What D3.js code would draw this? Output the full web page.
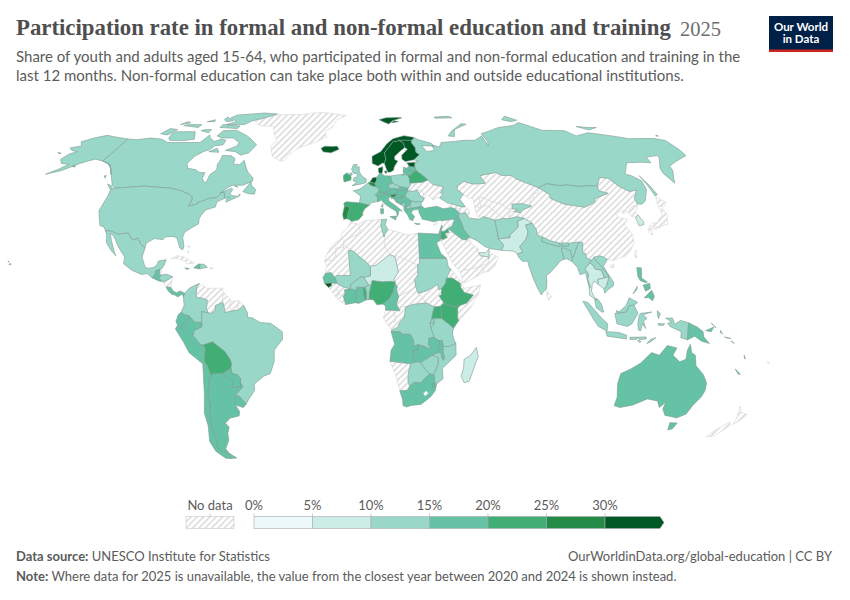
<!DOCTYPE html>
<html><head><meta charset="utf-8">
<style>html,body{margin:0;padding:0;background:#fff}svg{display:block}text{font-family:Lato,sans-serif}</style>
<script src="https://cdn.jsdelivr.net/npm/d3@7"></script></head><body>
<svg id="c" width="850" height="600"></svg>
<script>
const titleText="Participation rate in formal and non-formal education and training";
const yearText="2025";
const subtitleLines=["Share of youth and adults aged 15-64, who participated in formal and non-formal education and training in the","last 12 months. Non-formal education can take place both within and outside educational institutions."];
const binEdges=[0,5,10,15,20,25,30];
const binColors=["#edf8fb","#ccece6","#99d8c9","#66c2a4","#41ae76","#238b45","#005824"];
const legendLabels=["0%","5%","10%","15%","20%","25%","30%"];

const countryNames=[
"Canada","United States","Mexico","Guatemala","Belize","Honduras","El Salvador","Nicaragua","Costa Rica","Panama","Cuba","Haiti","Dominican Republic","Jamaica","Puerto Rico","Greenland",
"Colombia","Venezuela","Guyana","Suriname","French Guiana","Ecuador","Peru","Bolivia","Brazil","Paraguay","Uruguay","Argentina","Chile",
"Iceland","United Kingdom","Ireland","Norway","Sweden","Finland","Denmark","Netherlands","Belgium","France","Spain","Portugal","Germany","Switzerland","Austria","Italy","Slovenia","Croatia","Bosnia","Serbia","Montenegro","Albania","North Macedonia","Greece","Bulgaria","Romania","Hungary","Slovakia","Czechia","Poland","Moldova","Ukraine","Belarus","Lithuania","Latvia","Estonia","Russia",
"Turkey","Cyprus","Syria","Iraq","Iran","Jordan","Israel","Lebanon","Saudi Arabia","Kuwait","Qatar","UAE","Oman","Yemen","Georgia","Armenia","Azerbaijan","Kazakhstan","Uzbekistan","Kyrgyzstan","Tajikistan","Turkmenistan","Afghanistan","Pakistan","India","Nepal","Bhutan","Bangladesh","Sri Lanka","China","Taiwan","Mongolia","North Korea","South Korea","Japan",
"Myanmar","Thailand","Laos","Vietnam","Cambodia","Malaysia","Indonesia","Philippines","Papua New Guinea","Solomon Islands","Vanuatu","New Caledonia","Fiji","Australia","New Zealand",
"Morocco","Algeria","Tunisia","Libya","Egypt","Sudan","South Sudan","Chad","Niger","Mali","Mauritania","Senegal","Guinea-Bissau","Guinea","Sierra Leone","Liberia","Cote d'Ivoire","Ghana","Togo","Benin","Burkina Faso","Nigeria","Cameroon","Central African Republic","Ethiopia","Eritrea","Djibouti","Somalia","Kenya","Uganda","Rwanda","Burundi","Tanzania","Gabon","Congo","DR Congo","Angola","Zambia","Malawi","Mozambique","Zimbabwe","Botswana","Namibia","South Africa","Eswatini","Lesotho","Madagascar"];
const countryValues=[
13,13,13,16,null,14,17,null,18,18,null,17,13,18,null,null,
14,null,null,null,null,17,17,22,13,18,18,18,18,
33,14,23,33,34,33,32,32,27,14,22,26,17,17,17,17,27,17,16,16,14,16,14,17,14,14,17,17,14,13,null,null,22,17,17,31,13,
17,null,null,18,13,22,17,17,null,null,null,7,null,null,null,null,null,null,null,14,null,null,14,8,13,13,13,13,null,null,null,13,null,8,null,
13,8,13,13,8,13,13,18,17,18,18,18,null,17,null,
null,null,14,null,17,13,null,null,8,13,null,18,31,null,null,null,18,17,22,13,13,22,18,null,22,null,null,null,22,22,14,14,13,null,null,13,18,18,18,13,13,13,null,18,18,null,8];
const drawnLast=["Lesotho"];

/* country outlines as longitude,latitude rings, projected by d3.geoPath */
const outlines={
"Canada":"-141,69.6 -135,69.3 -128,70 -124,69.8 -120,69.4 -115,68 -108,68 -102,68 -96,68 -94,71.5 -92,70 -88,68.5 -85,69.5 -81.5,69 -81.5,67 -86,66.5 -87,65 -90,64 -93,62 -94.5,59 -92.5,57 -88,56.5 -85,55.3 -82,55.2 -82,53 -80,51.3 -79,51.5 -79,54.5 -76.7,56.5 -78,58.7 -77.5,60 -78,62.4 -73,62.2 -70,61 -69.5,58.8 -66,58.5 -64.5,60.3 -62,57.5 -60,55.5 -56,53 -56,51.7 -60,50.2 -65,50.2 -67,49.3 -70,47.2 -65,49 -64.3,48.5 -65,47 -64,46.2 -61,45.8 -60,46.8 -60,46 -65.5,43.6 -66,44.5 -64.5,45.5 -67,45 -67.8,47.1 -69.2,47.4 -71,45.3 -74.7,45 -76.5,44.2 -79.2,43.5 -79,42.9 -83,42 -82.5,43 -82.5,45.3 -84.5,46.5 -89.5,48 -95,49 -123,49 -125,50 -130,54.5 -133,57 -137,59 -141,60|-80,73.7 -72,71.5 -68,70 -62,67 -64,63.5 -68,62.5 -72,64 -78,64.5 -73,66.5 -73,68 -78,70 -85,70 -89,71 -88,73.5|-117,73 -105,73 -101,69.5 -108,68.8 -115,69 -117,70 -118,72|-125,72 -120,71.5 -117.5,74 -123,74.5|-90,76.5 -78,76.5 -75,78.5 -68,80 -62,82.5 -72,83.1 -90,81.8 -92,80 -85,78|-92,75 -80,74.5 -80,75.8 -92,76.5|-95,80.5 -88,78.5 -92,78 -95,79|-117,76 -106,75 -106,76.5 -115,76.5|-87,64 -81,63.7 -83.5,65.5|-59,47.7 -56,46.9 -53,46.7 -53,48.5 -55.5,50 -56.5,51.5|-128,50.7 -125.5,50 -123.5,48.4 -125.5,48.9|-133,54 -131.7,53 -132,54|-102,73.5 -96,72.5 -96,74 -100,74|-64,49.9 -62,49.4 -63,49.9|-105,78 -100,78 -101,79|-120,76.5 -115,77.5 -118,78",
"United States":"-123,49 -95,49 -89.5,48 -84.5,46.5 -82.5,45.3 -82.5,43 -83,42 -79,42.9 -79.2,43.5 -76.5,44.2 -74.7,45 -71,45.3 -69.2,47.4 -67.8,47.1 -67,45 -70,43.7 -70,41.7 -74,40.6 -75.5,38.5 -76,37 -75.5,35.3 -78,33.9 -81,32 -81.3,30 -80,26.8 -80.3,25.2 -81.7,26 -82.8,28 -84,30 -86,30.4 -89,30.3 -90,29.2 -94,29.6 -97.2,27.8 -97.2,26 -99.5,27.5 -101.5,29.8 -103,29 -104.5,29.7 -106.5,31.8 -108.2,31.5 -111,31.3 -114.8,32.5 -117.1,32.5 -118.5,34 -120.6,34.6 -122.4,37.5 -124.2,40.3 -124,44 -124,46.3 -124.7,48.4|-141,69.6 -141,60 -137,59 -133,57 -130,54.5 -131.5,55.5 -135,58.5 -140,59.8 -146,60.8 -149,60 -152,59 -154,58 -158,56 -164,54.6 -160,56.7 -157.5,58.7 -162,59 -165,60.7 -164,63 -161,64 -165,64.5 -168,65.6 -163,66.5 -166.5,68.3 -162,70 -156.5,71.3 -150,70.5|-155.9,19.5 -155,19.7 -155.6,20.2|-156.7,20.9 -156,20.8 -156.4,20.6|-171.5,63.7 -169,63.3 -170,63.1|-154.5,57.8 -152.5,57.5 -153.5,58.2",
"Mexico":"-117.1,32.5 -114.8,32.5 -111,31.3 -108.2,31.5 -106.5,31.8 -104.5,29.7 -103,29 -101.5,29.8 -99.5,27.5 -97.2,26 -97.8,22.5 -95.9,18.8 -94.5,18.2 -92,18.6 -90.7,19.5 -90.3,21 -87,21.5 -87.5,19.5 -88.2,18.4 -89.1,17.9 -91,17.2 -91,16 -92.2,14.6 -94.5,16.2 -97,15.9 -101.5,17.5 -105.5,20 -105.5,22.5 -109.3,26.5 -112.5,30.5 -114.7,31.7 -113,28.8 -110.5,24.5 -109.5,23 -112,25 -115,28 -116,31",
"Guatemala":"-92.2,14.6 -91,16 -91,17.2 -89.1,17.9 -89.2,15.9 -88.2,15.7 -89.3,14.4 -90.1,13.8",
"Belize":"-89.1,17.9 -88.2,18.4 -88.3,16.5 -89.2,15.9",
"Honduras":"-88.2,15.7 -86,16 -83.2,15 -84.9,14 -87.3,13 -87.8,13.4 -89.3,14.4",
"El Salvador":"-90.1,13.8 -89.3,14.4 -87.8,13.4 -88.5,13.2",
"Nicaragua":"-87.3,13 -84.9,14 -83.2,15 -83.6,11 -85.7,11.1",
"Costa Rica":"-85.7,11.1 -83.6,11 -82.6,9.6 -83,8.3 -84.7,9.6",
"Panama":"-82.6,9.6 -81,8.9 -79.5,9.6 -77.4,8.7 -77.9,7.2 -78.5,8.4 -80.4,7.3 -81.7,8 -83,8.3",
"Cuba":"-85,21.9 -82.5,23.1 -79,22.5 -74.2,20.2 -77.7,19.9 -78.5,21 -82,22",
"Haiti":"-74.4,18.4 -72.5,19.9 -71.7,19.8 -71.7,18 -73,18.2",
"Dominican Republic":"-71.7,19.8 -70,19.8 -68.4,18.6 -71,18.2 -71.7,18",
"Jamaica":"-78.3,18.4 -76.3,18.1 -77.3,17.8",
"Puerto Rico":"-67.2,18.4 -65.7,18.4 -65.9,18 -67.2,18|-78.5,26.8 -77,26.5 -77.8,26.2|-78,24.6 -77.4,25 -77.6,24|-61.9,10.1 -61,10.8 -61,10.1",
"Greenland":"-73,78.2 -68,76 -58,75.5 -54,71 -51,69 -53.5,66.5 -50,62 -45,60 -43,60 -41,63 -37,65.5 -28,68.2 -22,70.5 -24,73 -20,75 -18,79 -12,81.5 -30,83.6 -45,82.2 -60,82 -68,80.5",
"Colombia":"-77.4,8.7 -75.5,10.7 -72,12.2 -71.3,12.4 -72.3,11.2 -72.5,8 -72,7 -70,6.9 -67.5,6.1 -67.8,2.8 -67,1.2 -69.8,1.7 -69.8,-4.2 -70.2,-2.5 -72.9,-2.4 -75.2,0 -77,0.4 -78.8,1.4 -77.5,4 -77.9,7.2",
"Venezuela":"-71.3,12.4 -71.7,10.9 -70,12.1 -68,10.6 -64,10.6 -61.9,10.7 -60,8.5 -61,7 -60.7,5.2 -64,4 -64,2 -66,1 -67,1.2 -67.8,2.8 -67.5,6.1 -70,6.9 -72,7 -72.5,8 -72.3,11.2",
"Guyana":"-60,8.5 -58,6.8 -57.2,5.5 -58,3.5 -57,1.9 -59.8,1.3 -59.9,2.3 -60.7,5.2 -61,7",
"Suriname":"-57.2,5.5 -54,5.9 -54.2,3.5 -54,2.3 -57,1.9 -58,3.5",
"French Guiana":"-54,5.9 -51.7,4.1 -54,2.3 -54.2,3.5",
"Ecuador":"-78.8,1.4 -77,0.4 -75.2,0 -75.5,-1.5 -78.3,-3.5 -79,-5 -80.3,-3.4 -81,-2.2 -80,0.5",
"Peru":"-80.3,-3.4 -79,-5 -78.3,-3.5 -75.5,-1.5 -75.2,0 -72.9,-2.4 -70.2,-2.5 -69.8,-4.2 -73,-5.5 -73.8,-7.5 -70.6,-11 -69.5,-11 -68.7,-12.5 -69.5,-16 -69.5,-17.5 -70.4,-18.3 -76,-14 -78,-10 -81.3,-5",
"Bolivia":"-69.5,-11 -65.4,-9.8 -60.3,-13.5 -58.3,-16.3 -57.6,-18.2 -58.2,-20 -62.3,-22 -66.2,-22 -67.2,-22.8 -68.6,-19 -69.5,-17.5 -69.5,-16 -68.7,-12.5",
"Brazil":"-69.8,1.7 -67,1.2 -66,1 -64,2 -64,4 -60.7,5.2 -59.9,2.3 -59.8,1.3 -57,1.9 -54,2.3 -51.7,4.1 -50,1.2 -50,-0.5 -48,-0.7 -44.5,-2.5 -40,-2.8 -37,-4.7 -35,-6 -35,-9 -38.7,-13 -39,-17.5 -41,-22 -44,-23 -48.5,-26 -48.7,-28.5 -52,-32 -53.4,-33.7 -55.7,-30.9 -57.6,-30.2 -53.7,-27 -54.6,-25.6 -54.3,-24 -55.7,-22.4 -57.9,-22 -58.2,-20 -57.6,-18.2 -58.3,-16.3 -60.3,-13.5 -65.4,-9.8 -69.5,-11 -70.6,-11 -73.8,-7.5 -73,-5.5 -69.8,-4.2",
"Paraguay":"-58.2,-20 -57.9,-22 -55.7,-22.4 -54.3,-24 -54.6,-25.6 -54.7,-27.2 -58.6,-27.3 -57.7,-25 -62.3,-22",
"Uruguay":"-57.6,-30.2 -55.7,-30.9 -53.4,-33.7 -54.9,-35 -58.4,-34",
"Argentina":"-66.2,-22 -62.3,-22 -57.7,-25 -58.6,-27.3 -54.7,-27.2 -54.6,-25.6 -53.7,-27 -57.6,-30.2 -58.4,-34 -57,-36.5 -57.7,-38.2 -62,-39 -65,-41 -63.7,-42.5 -65.3,-45 -65.8,-47.5 -69,-51 -68.4,-52.3 -71.5,-52 -73,-50.5 -72,-48 -72,-42 -71.3,-39 -70,-34 -70,-30 -68.4,-24.5 -67.2,-22.8|-68.4,-52.6 -65.2,-54.7 -68.6,-54.9",
"Chile":"-69.5,-17.5 -68.6,-19 -67.2,-22.8 -68.4,-24.5 -70,-30 -70,-34 -71.3,-39 -72,-42 -72,-48 -73,-50.5 -71.5,-52 -68.4,-52.3 -68.6,-54.9 -71,-54.8 -74.5,-52 -75.5,-48 -73.5,-42 -73.5,-37 -71.5,-30 -70.4,-18.3",
"Iceland":"-24,65.5 -22,66.4 -18,66.2 -15,66.4 -13.6,65 -18,63.5 -22.5,63.9",
"United Kingdom":"-5.5,50 -1,50.7 1.4,51.2 1.7,52.7 0,53.5 -1.5,55 -2,56 -2,57.6 -4,57.7 -3,58.6 -5,58.6 -6,56.7 -5,55 -3,54.9 -3,53.4 -4.5,53.3 -5,52 -3,51.4|-8,54.5 -6,55.2 -5.5,54.4 -6.3,54.1",
"Ireland":"-10,54.2 -8.2,55.2 -8,54.5 -6.3,54.1 -6,53 -6.3,52.2 -9.5,51.5 -10,53",
"Norway":"5,59 5,62 10,64 14,67.5 18,69.7 25,71.1 31,70.3 29,69 25.7,69 21,69 20,68.5 18,68.5 15,66 12,63.5 12.5,61 11.5,59 10.5,59.2 8,58|11,79 16,80 25,80.2 27,80 20,78.5 17,76.8 14,77.8|21,78.5 24,78 19,77.5",
"Sweden":"11.5,59 12.5,61 12,63.5 15,66 18,68.5 20,68.5 21,69 23.7,67.9 24,65.8 21.5,64.5 17.5,62 17.2,60.7 18.8,60 16.5,57.5 16,56.2 14.3,55.5 13,55.4 12.5,56.3",
"Finland":"21,69 25.7,69 29,69 28.5,68 30,65.7 29.8,63.7 31.5,62.8 27.8,60.5 22.9,59.8 21.3,60.8 21.5,62.5 25.3,65 24,65.8 23.7,67.9",
"Denmark":"8.1,57 10.5,57.7 10.3,56 9.7,54.9 8.6,54.9 8.1,55.6|11,55.7 12.5,56 12,54.8",
"Netherlands":"3.4,51.4 5,53.2 7,53.4 7,52.3 6,51 5.9,50.8 4.5,51.4",
"Belgium":"2.5,51.1 3.4,51.4 4.5,51.4 5.9,50.8 6.3,50.3 6.3,49.5 4,50",
"France":"2.5,51.1 4,50 6.3,49.5 8.2,49 7.6,47.6 6,46.3 7,45.8 7,44 7.5,43.8 4,43.4 3,42.4 -1.7,43.3 -1.2,46 -4.7,48 -1.5,48.7 0.2,49.7|8.6,41.9 9.4,43 9.5,41.6",
"Spain":"-1.7,43.3 3,42.4 0.8,41 -0.3,39.3 0,38.7 -2,36.8 -5.3,36.1 -6.4,36.9 -7.4,37.2 -7,39.6 -6.2,41.6 -8.2,42 -8.8,42 -9.2,43.2 -8,43.7",
"Portugal":"-8.8,42 -8.2,42 -6.2,41.6 -7,39.6 -7.4,37.2 -9,37 -9.5,38.8",
"Germany":"7,53.4 8.6,54.9 9.7,54.9 11,54 14.2,53.9 14.6,52 15,51 12.2,50.3 13.8,48.7 13,47.6 10,47.3 7.6,47.6 8.2,49 6.3,49.5 6.3,50.3 5.9,50.8 6,51 7,52.3",
"Switzerland":"6,46.3 7.6,47.6 10,47.3 10.4,46.6 9,45.9 7,45.8",
"Austria":"10,47.3 13,47.6 13.8,48.7 15,49 17,48.7 17,47 16,46.7 13.5,46.5 10.4,46.6",
"Italy":"7,45.8 9,45.9 10.4,46.6 13.5,46.5 13.7,45.7 12.3,45.2 12.5,44 16,41.9 18.5,40.1 17,40.5 16.5,39 16,38 15.7,40 12.4,41.7 10.3,43 8.8,44.4 7.5,43.8 7,44|12.5,38 15.6,38.2 15.1,36.7|8.2,41 9.7,41 9.6,39.2 8.4,39",
"Slovenia":"13.5,46.5 16,46.7 16.5,46.5 15.5,45.6 13.7,45.5 13.7,45.7",
"Croatia":"13.7,45.5 15.5,45.6 16.5,46.5 19,45.9 19,45 16,45.2 15.8,44.7 17.5,43 18.5,42.5 16,43.5 15,44.7 14.3,45 13.7,44.9",
"Bosnia":"16,45.2 19,45 19.3,43.5 18.5,42.5 17.5,43 15.8,44.7",
"Serbia":"19,45.9 20.3,46.1 21.5,45.2 22.7,44.3 23,43.3 22.4,42.3 20.6,41.9 20.2,42.8 19.3,43.5 19,45",
"Montenegro":"18.5,42.5 19.3,43.5 20.2,42.8 20.2,42.5 19.4,41.9",
"Albania":"19.4,41.9 20.2,42.5 20.6,41.9 21,40.9 20,39.7 19.3,40.5",
"North Macedonia":"20.6,41.9 22.4,42.3 23,41.3 21,40.9",
"Greece":"20,39.7 21,40.9 23,41.3 26.3,41.7 26,40.8 23.5,40.5 22.6,39.5 24,38 23,36.5 21.7,36.8 21,38.3|23.6,35.5 26.3,35.2 24.8,34.9",
"Bulgaria":"22.4,42.3 23,43.3 22.7,44.3 25,43.7 28,43.8 27.7,42.5 28,42 26.3,41.7 23,41.3",
"Romania":"20.3,46.1 22,48 24.9,47.8 26.6,48.3 28.2,45.5 29.7,45.2 28.7,43.8 28,43.8 25,43.7 22.7,44.3 21.5,45.2",
"Hungary":"16,46.7 17,47 17,48 18.8,48.1 22,48.4 22,48 20.3,46.1 19,45.9 16.5,46.5",
"Slovakia":"17,48.7 18.8,49.6 22.5,49.1 22,48.4 18.8,48.1 17,48",
"Czechia":"12.2,50.3 15,51 16.8,50.3 18.8,49.6 17,48.7 15,49 13.8,48.7",
"Poland":"14.2,53.9 19,54.4 23,54.4 23.7,52.7 23.5,51 24,50.6 22.5,49.1 18.8,49.6 16.8,50.3 15,51 14.6,52",
"Moldova":"26.6,48.3 29,48.1 29.8,46.5 28.2,45.5",
"Ukraine":"23.5,51 30,51.4 33,52.3 35,50.5 40,49.6 38,47.1 35,46.2 36.5,45.3 33.5,44.4 32.5,46 30.5,46 29.7,45.2 28.2,45.5 29.8,46.5 29,48.1 26.6,48.3 24.9,47.8 22,48 22,48.4 22.5,49.1 24,50.6",
"Belarus":"23.7,52.7 23.5,51 30,51.4 33,52.3 31,54 28,56 26.5,55.7 24,54 23,54.4",
"Lithuania":"21,56 25,56.4 26.5,55.7 24,54 23,54.4 21,55.2",
"Latvia":"21,56 21.5,57.5 23,57 24.4,57.9 27.5,57.5 28,56 26.5,55.7 25,56.4",
"Estonia":"23.5,59.2 28,59.5 27.5,57.5 24.4,57.9 24.4,58.3",
"Russia":"28,59.5 27.5,57.5 28,56 31,54 33,52.3 35,50.5 40,49.6 38,47.1 39.3,47 37,45.2 40,43.5 43.5,42.6 46.5,41.8 48.5,41.8 47.5,43.5 46.7,44.5 48,46 49,46.5 46.5,48.5 47,50 51,51.7 55,50.7 59,50.8 61.5,51 60,54 69,55.3 71,54.2 76.5,54 78,52.7 87,49.2 92,50.8 98,50 102,50.3 107,49.7 113,50 116.7,49.8 120,52.5 120.5,53.3 125,53 127.5,49.7 131,47.7 135,48.3 131,45 131,42.9 133,42.8 135.5,44 140,48.5 141,52 138,54 135.5,54.7 142,59.3 150,59.5 155,59.3 156,61.7 163,62.3 163,61.6 156.7,57 155.5,55 156.7,51 158.5,53 162,56 163.2,58 170,60 179,62.3 179.9,65 179.9,68.9 175,69.8 170,69.8 160,69.7 152,71 140,72.5 130,71 127,73.5 113,73.7 104,77.6 98,76 87,75 80,73.5 73,72 73.7,68.5 72.7,66.5 72.3,71 66.7,69 60,69 54,68.5 46,68 44,66 40,67 40.5,64.6 36,64 34,66.7 41,66.3 40,67.7 33,69.3 31,70 29,69 28.5,68 30,65.7 29.8,63.7 31.5,62.8 27.8,60.5 30,60|52,71 55.5,70.7 58,74 68,76.7 65,77 55,73|142,54 143,50 143.5,46.5 142,46 142,50|95,79 100,78 105,78.8 100,81|138,75.5 145,75 150,75 143,73.8|178.5,71 179.9,71.4 179.9,70.9|50,80.5 60,81 62,80 50,79.8|21,54.9 22.5,55 22.5,54.4 20,54.4",
"Turkey":"26.3,41.7 28,42 29,41.2 35,42 38,41 41.5,41.5 43.5,41 44.8,39.7 44.5,37.8 42.4,37.1 39,36.7 36.5,36.5 35.5,36.6 32.5,36 30.5,36.5 27.5,37 26.3,39.5 26.2,40.8",
"Cyprus":"32.3,35 34.5,35.6 33.5,34.7",
"Syria":"36.5,36.5 39,36.7 42.4,37.1 41,34.4 38.8,33.4 36.8,32.3 35.8,33.3 36.5,34.2 36,34.6",
"Iraq":"42.4,37.1 44.5,37.8 45.5,35.5 46,33 48,30.5 48.5,29.9 47.7,30.1 46.5,29.1 44.7,29.2 40.9,31.9 38.8,33.4 41,34.4",
"Iran":"44.8,39.7 46,39 48,39.6 49,37.5 54,37 56,38 61,36.6 61,31.4 61,29.5 63,27 61.6,25.1 57,25.7 54.5,26.5 50.8,29 48.5,29.9 48,30.5 46,33 45.5,35.5 44.5,37.8",
"Jordan":"35,29.5 35.5,32.5 36.8,32.3 38.8,33.4 39,32 37,31.5 38,30 36,29.2",
"Israel":"34.3,31.3 35.1,33 35.8,33.3 35.5,32.5 35,29.5",
"Lebanon":"35.1,33 36,34.6 36.5,34.2 35.8,33.3",
"Saudi Arabia":"34.9,29 36,29.2 38,30 37,31.5 39,32 40.9,31.9 44.7,29.2 46.5,29.1 47.7,28.5 48.5,28 50,26.5 51,24.5 52,23 55.2,22.7 55.7,22 55,20 52,19 48.8,18.2 43.5,17.3 42.8,16.4 39,21 37,25",
"Kuwait":"46.5,29.1 47.7,30.1 48.4,28.5 47.7,28.5",
"Qatar":"51,24.6 51.5,25.8 51.2,26.1 50.8,24.8",
"UAE":"51.5,24.2 52,23 55.2,22.7 55.7,22 56,24.8 56.3,25.8 54.5,24.2",
"Oman":"55.7,22 56,24.8 56.8,24 59.8,22.5 58,19 55,17 53,16.7 52,19 55,20",
"Yemen":"43.5,17.3 48.8,18.2 52,19 53,16.7 45,12.8 43.4,12.7 42.8,16.4",
"Georgia":"40,43.5 43.5,42.6 46.5,41.8 45.5,41 43.5,41 41.5,41.5",
"Armenia":"43.5,41 45.5,41 46,39 44.8,39.7",
"Azerbaijan":"46.5,41.8 48.5,41.8 50.3,40.3 49,37.5 48,39.6 46,39 45.5,41",
"Kazakhstan":"49,46.5 46.5,48.5 47,50 51,51.7 55,50.7 59,50.8 61.5,51 60,54 69,55.3 71,54.2 76.5,54 78,52.7 87,49.2 85.5,47 83,47 82.5,45.2 80.3,45 80,42 76,43 71,42.8 70.5,41 68,41 66,43 61,44 58,45.5 56,45 56,41.3 53,42 53,45 51,45",
"Uzbekistan":"56,45 58,45.5 61,44 66,43 68,41 70.5,41 73,40.8 71,40 68.5,39.5 67.7,37.2 65,37.3 62,40 58.5,42.5 56,41.3",
"Kyrgyzstan":"71,42.8 76,43 80,42 75,40.5 73.7,39.5 71,40 73,40.8 70.5,41",
"Tajikistan":"68.5,39.5 71,40 73.7,39.5 74.9,37.3 71.5,38 67.7,37.2",
"Turkmenistan":"53,42 56,41.3 58.5,42.5 62,40 65,37.3 61,36.6 56,38 54,37 53,39.5",
"Afghanistan":"61,36.6 65,37.3 67.7,37.2 71.5,38 74.9,37.3 71.5,36.3 71,34 69.5,33 66.5,31 66.3,29.9 61,29.5 61,31.4",
"Pakistan":"61,29.5 66.3,29.9 66.5,31 69.5,33 71,34 71.5,36.3 74.9,37.3 77.8,35.5 74.5,34.7 75,32.4 74.5,31 73,29 70,26.5 71,24.4 68.5,23.7 67,24.8 61.6,25.1 63,27",
"India":"74.5,34.7 77.8,35.5 79,33 78.8,31 81,30.2 80.3,28.5 84,27.4 88,26.5 88.1,27.9 89,27.2 89,26.8 92,26.8 92,27.8 97,28.3 95.2,26 93.4,23 92.6,22 92.3,23.3 92.3,25 89.8,25.9 88.5,26 88.5,24.3 88.9,21.7 87,21 86,20 82,16.5 80.2,15.5 80.2,13 79.8,10.3 78,8.9 77.5,8 76,10.5 74.5,14 73,19 72.7,21 70.5,20.8 69,22.3 68.5,23.7 71,24.4 70,26.5 73,29 74.5,31 75,32.4",
"Nepal":"80.3,28.5 81,30.2 84,28.8 88.1,27.9 88,26.5 84,27.4",
"Bhutan":"89,27.2 89,28 92,27.8 92,26.8 89,26.8",
"Bangladesh":"88.5,26 89.8,25.9 92.3,25 92.3,23.3 92.6,22 92.3,20.8 90,21.9 88.9,21.7 88.5,24.3",
"Sri Lanka":"80,9.7 81.8,7.5 80.5,6 79.8,8",
"China":"73.7,39.5 75,40.5 80,42 80.3,45 82.5,45.2 83,47 85.5,47 87,49.2 91,46.5 90.5,45 96,42.8 105,41.6 111,43.5 112,45 116,46 119.9,47 116,48 116.7,49.8 120,52.5 120.5,53.3 125,53 127.5,49.7 131,47.7 135,48.3 131,45 131,42.9 130.7,42.3 128,42 124.3,40 121.5,39 122,40.5 118,39 119,37.5 122.5,37 120,35 122,31 121.5,28 119,25 116.5,23 113.5,22.2 110.5,21.2 108,21.6 106.5,22.5 105,23 102.2,22.5 101.2,21.3 99,22 98.7,24 97.5,24 98.5,28 97,28.3 92,27.8 89,28 88.1,27.9 84,28.8 81,30.2 78.8,31 79,33 77.8,35.5 74.9,37.3|108.7,19.2 110.5,20 110.3,18.6 109,18.4",
"Taiwan":"120.2,23 121.5,25.3 121,22",
"Mongolia":"87,49.2 92,50.8 98,50 102,50.3 107,49.7 113,50 116.7,49.8 116,48 119.9,47 116,46 112,45 111,43.5 105,41.6 96,42.8 90.5,45 91,46.5",
"North Korea":"124.3,40 128,42 130.7,42.3 127.5,39.7 128.4,38.6 126.7,37.8 125,38",
"South Korea":"126.7,37.8 128.4,38.6 129.4,36 129,35 126.5,34.4 126.6,37",
"Japan":"130.9,34 133,35.5 136,35.8 137,37 139.7,38.5 140,41 141.5,41 142,39 140.9,36.8 140,35 137,34.6 135.5,33.6 132,34.2|140,41.8 141.8,45.5 145,43.5 143,42|130,33.5 131.8,33.5 131,31 130.2,31.4|132.4,33.4 134.5,34.2 133.5,33",
"Myanmar":"97,28.3 98.5,28 97.5,24 98.7,24 99,22 101.2,21.3 100,20.3 97.5,18 98.8,16 98.2,14 99,11 98.5,10.5 97.5,16.5 95,15.8 94.3,18.5 92.3,20.8 92.6,22 93.4,23 95.2,26",
"Thailand":"100,20.3 101.2,19.5 102,18 104.7,17.5 105.5,14.5 102.5,14 102.6,12 100.9,13.4 99.9,12 99.3,9.5 100.5,7 102,6.2 100.5,6.5 98.3,8 98.5,10.5 99,11 98.2,14 98.8,16 97.5,18",
"Laos":"101.2,21.3 102.2,22.5 103,20.8 104.5,19.6 105.5,18 107,16.3 107.5,15 105.5,14.5 104.7,17.5 102,18 101.2,19.5 100,20.3",
"Vietnam":"102.2,22.5 105,23 106.5,22.5 108,21.6 105.8,19 107,16.5 109.3,13 109,11.5 106.5,10 105,8.7 104.8,10.4 106,11.5 107.5,15 107,16.3 105.5,18 104.5,19.6 103,20.8",
"Cambodia":"102.6,12 102.5,14 105.5,14.5 107.5,15 106,11.5 104.8,10.4",
"Malaysia":"100.5,6.5 102,6.2 103.4,4.5 104.2,1.5 103.4,1.5 101,3.2|109.6,2 111,1.7 114,4 115.5,7 119,5.2 117.5,4.1 115.5,4 114,1.5 110,1",
"Indonesia":"109,1 110,1 114,1.5 115.5,4 117.5,4.1 119,1 116.5,-3 114.5,-4 110,-3|95.3,5.6 97.5,5.2 103.5,-1 106,-3 105.8,-5.8 102,-4 100,-1.5|105.3,-6 108.5,-6.1 111,-6.3 114.5,-7.4 114.4,-8.8 108.5,-8 106,-7.7|119.5,0 120,1 125,1.5 121,0.4 123,-0.9 121.5,-1.9 122.5,-4.8 121,-3 120.4,-5.6 119.4,-5.4 119,-3|115.9,-8.1 119,-8.1 119,-8.9 116,-9|119,-8.1 123,-8 123,-8.8 120,-9|119.3,-9.3 120.8,-9.7 120.4,-10.2|123.5,-10.5 125,-8.9 127.2,-8.3 125,-9.9|127.4,2 128.7,1 128,-1 127.5,0|127.8,-2.9 130.7,-3 130,-3.6 128,-3.5|131,-0.8 134,-0.8 135,-3.2 137.5,-1.7 141,-2.6 141,-9.1 138,-8.3 138,-6 133,-4 132,-2.8 133.7,-2.3",
"Philippines":"120.3,18.5 122.3,18.4 122,16 121.7,14.5 124,13 123.5,12.7 121,13.5 120.2,15|122,7 125.5,9.8 126.5,7.5 125.5,5.8 124,7|117.3,8.5 119.5,11.4 119,10|122,11.8 125,12.5 125,10.5 122.8,9.5",
"Papua New Guinea":"141,-2.6 145,-4.3 147.5,-6 148,-8 150.7,-10.5 147,-9.6 144,-7.7 141,-9.1|148.5,-5.6 152,-4.2 151,-6|150.8,-2.7 153,-4.6 152,-3.6|155,-5.5 155.9,-6.8 155,-6.3",
"Solomon Islands":"157,-8 159.8,-8.6 158,-8.4|160,-9.5 161.5,-10.5 160.5,-10",
"Vanuatu":"166.7,-15 167.5,-16.5 166.8,-15.8",
"New Caledonia":"164,-20.2 167,-22.3 166,-22.2",
"Fiji":"177.5,-17.5 178.5,-17.9 178,-18.3",
"Australia":"114,-22 113.5,-26 115,-31 115,-34.3 118,-35 123.5,-34 129,-31.7 134,-32.5 136,-35 138,-33 138,-35.6 140.5,-38 144,-38.5 146.5,-39 150,-37.5 151,-34 153,-31 153.6,-28.5 153,-25.5 150.7,-22.5 146.5,-19 145.3,-15 143.5,-14 142.5,-10.8 141.5,-13 141.5,-16.5 139,-17.5 135.5,-15 136.8,-12.2 132.5,-11.3 129.5,-15 126,-14 122,-18 118,-20.3|144.7,-40.8 148.3,-40.9 147.9,-43.2 146,-43.6",
"New Zealand":"172.8,-34.5 175,-36.8 178.5,-37.7 176.8,-40 175.2,-41.6 174.7,-39|172.7,-40.5 174.2,-41.7 172.5,-43.7 170.5,-46 167,-46.3 168.5,-44",
"Morocco":"-5.9,35.8 -2,35.1 -1.2,32.5 -3,31 -8.7,28.7 -8.7,27.3 -8.7,26 -12,26 -12,23.4 -13,21.3 -17,21.3 -16,23.7 -14.5,26.2 -13,27.7 -10,29.5 -9.8,31.5 -7,33.7",
"Algeria":"-2,35.1 1,36.5 8.6,36.9 8.2,34.5 9.5,30.2 9.8,29.4 9.9,26.4 11.9,23.5 5.7,19.4 3.2,19 1.2,20.8 -4.8,25 -8.7,27.3 -8.7,28.7 -3,31 -1.2,32.5",
"Tunisia":"8.6,36.9 11,37 10.2,35 11.2,33.2 10,31.5 9.5,30.2 8.2,34.5",
"Libya":"9.5,30.2 10,31.5 11.2,33.2 15.3,32.3 20,31 25,31.7 25,22 25,20 24,19.5 15,23 14.2,22.6 11.9,23.5 9.9,26.4 9.8,29.4",
"Egypt":"25,31.7 34.3,31.3 34.9,29 33,28 34.5,24 37,22 25,22",
"Sudan":"24,19.5 25,20 25,22 37,22 37.5,18.8 38.6,18 36.5,14.5 36,12.5 34.2,10.5 33,10 32.5,12 27.5,9.6 24,8.7 23,11 22.5,14 24,15.7",
"South Sudan":"24,8.7 27.5,9.6 32.5,12 33,10 34.2,10.5 34,8 33,7.7 35,5 33.5,3.7 30.8,3.5 27.5,5",
"Chad":"15,23 24,19.5 24,15.7 22.5,14 23,11 19,9 15.5,7.5 14.5,10 15,11 14,12.5 14,13 13.5,14 15.5,16.9 14.2,22.6",
"Niger":"11.9,23.5 14.2,22.6 15.5,16.9 13.5,14 14,13 12,13.2 8.5,13 4,13.5 3.6,11.7 2.4,11.9 0.2,14.8 3.2,15.3 3.2,19 5.7,19.4",
"Mali":"-12.2,14.7 -11.4,12.5 -8.5,11 -5.5,10.4 -5.3,12 -3,13.6 -1,15 0.2,14.8 3.2,15.3 3.2,19 1.2,20.8 -4.8,25 -6.5,25 -5.5,15.5 -11.5,15.5",
"Mauritania":"-17,21.3 -13,21.3 -12,23.4 -12,26 -8.7,26 -8.7,27.3 -4.8,25 -6.5,25 -5.5,15.5 -11.5,15.5 -12.2,14.7 -14,16.6 -16.5,16.2 -16,19",
"Senegal":"-16.5,16.2 -14,16.6 -12.2,14.7 -11.4,12.5 -13.7,12.6 -16.7,12.4 -17.5,14.7",
"Guinea-Bissau":"-16.7,12.4 -13.7,12.6 -13.7,11.7 -15,10.9",
"Guinea":"-13.7,12.6 -11.4,12.5 -8.5,11 -8,10 -7.8,8.5 -8.5,7.5 -9,7.5 -10.3,8.5 -11.2,10 -13.3,9 -15,10.9 -13.7,11.7",
"Sierra Leone":"-13.3,9 -11.2,10 -10.3,8.5 -11.5,6.9",
"Liberia":"-11.5,6.9 -10.3,8.5 -9,7.5 -8.5,7.5 -7.5,4.4 -9.3,5.2",
"Cote d'Ivoire":"-7.5,4.4 -8.5,7.5 -7.8,8.5 -8,10 -5.5,10.4 -2.8,9.8 -3.2,5.1",
"Ghana":"-3.2,5.1 -2.8,9.8 -2.8,11 0,11 0.4,8 1.1,6 -1.9,4.8",
"Togo":"0,11 0.9,11 1.6,9 1.6,6.2 1.1,6 0.4,8",
"Benin":"0.9,11 2.4,11.9 3.6,11.7 2.8,9 2.7,6.3 1.6,6.2 1.6,9",
"Burkina Faso":"-5.5,10.4 -2.8,9.8 -2.8,11 0,11 0.9,11 2.4,11.9 0.2,14.8 -1,15 -3,13.6 -5.3,12",
"Nigeria":"2.7,6.3 2.8,9 3.6,11.7 4,13.5 8.5,13 12,13.2 14,13 14,12.5 13,9 11.5,6.7 8.6,4.6 6,4.3 4.5,6.2",
"Cameroon":"8.6,4.6 11.5,6.7 13,9 14,12.5 15,11 14.5,10 15.5,7.5 14.5,4.5 16,2 13,2.2 9.8,2.2 9.7,3.8",
"Central African Republic":"15.5,7.5 19,9 23,11 24,8.7 27.5,5 22,4.5 18.6,3.5 16.5,3.5 16,2 14.5,4.5",
"Ethiopia":"36,12.5 36.5,14.5 39,14.5 42.4,12.5 42.5,11 44,9 47.9,8 45,5 42,4 39,3.5 35.9,4.6 35,5 33,7.7 34,8 34.2,10.5",
"Eritrea":"36.5,14.5 38.6,18 43.1,12.7 42.4,12.5 39,14.5",
"Djibouti":"42.4,12.5 43.1,12.7 43.3,11.5 42.5,11",
"Somalia":"42.5,11 43.3,11.5 44,10.5 51.2,11.9 50,8 46,2.5 41.5,-1.7 41,-1 41,3 42,4 45,5 47.9,8 44,9",
"Kenya":"35,5 35.9,4.6 39,3.5 42,4 41,3 41,-1 41.5,-1.7 39.2,-4.7 37.7,-3.5 34,-1 34,0.5 33.5,3.7",
"Uganda":"30.8,3.5 33.5,3.7 34,0.5 34,-1 30.5,-1 29.6,-1.4 30,0.8",
"Rwanda":"29.6,-1.4 30.5,-1 30.9,-2.3 29.7,-2.8 29,-2.5",
"Burundi":"29,-2.5 29.7,-2.8 30.9,-2.3 30.5,-3.5 29.4,-4.4",
"Tanzania":"34,-1 37.7,-3.5 39.2,-4.7 38.8,-6.5 39.5,-9 40.4,-10.5 37.5,-11.7 34.9,-11.6 34.5,-9.5 32.9,-9.4 30.8,-8.2 29.4,-4.4 30.5,-3.5 30.9,-2.3 30.5,-1",
"Gabon":"9.8,2.2 13,2.2 14,-0.3 14,-2.3 12,-2.5 11.2,-3.9 8.8,-0.8",
"Congo":"11.2,-3.9 12.4,-5.5 15,-4.3 16,-2.5 17.8,-0.6 18.6,3.5 16.5,3.5 16,2 13,2.2 14,-0.3 14,-2.3 12,-2.5",
"DR Congo":"12.2,-6 12.4,-5.5 15,-4.3 16,-2.5 17.8,-0.6 18.6,3.5 22,4.5 27.5,5 30.8,3.5 30,0.8 29.6,-1.4 29,-2.5 29.4,-4.4 30.8,-8.2 28.7,-8.5 28.4,-11 29.8,-12.1 28.5,-12.4 27,-11.7 24,-11 22,-11.5 22,-9.5 20.5,-7 17,-7 16,-6",
"Angola":"12.2,-6 16,-6 17,-7 20.5,-7 22,-9.5 22,-11.5 24,-11 24,-13 22,-13 22,-16.2 23.5,-17.5 20.9,-18.3 11.8,-17.3 12.3,-13 13.8,-10.8",
"Zambia":"22,-13 24,-13 24,-11 27,-11.7 28.5,-12.4 29.8,-12.1 28.4,-11 28.7,-8.5 30.8,-8.2 32.9,-9.4 33.5,-11 33,-14 30.2,-15 28.8,-16 25.3,-17.8 23.5,-17.5 22,-16.2",
"Malawi":"32.9,-9.4 34.5,-9.5 34.9,-11.6 35.2,-14.4 35.8,-16 35.2,-17 34.3,-15.8 34.3,-14.4 33,-14 33.5,-11",
"Mozambique":"34.9,-11.6 37.5,-11.7 40.4,-10.5 40.7,-15 35,-20 35.5,-24 32.8,-26 32,-25.5 31.3,-22.4 32.9,-18.5 33,-16 30.2,-15 33,-14 34.3,-14.4 34.3,-15.8 35.2,-17 35.8,-16 35.2,-14.4",
"Zimbabwe":"25.3,-17.8 28.8,-16 30.2,-15 33,-16 32.9,-18.5 31.3,-22.4 29.4,-22.2 27,-20",
"Botswana":"20.9,-18.3 23.5,-17.5 25.3,-17.8 27,-20 29.4,-22.2 26.5,-24.7 25.5,-25.7 23,-25.3 20.8,-26.9 20,-24.8 20,-22",
"Namibia":"11.8,-17.3 20.9,-18.3 20,-22 20,-24.8 20.8,-26.9 20,-28.4 16.5,-28.6 14.5,-22.5",
"South Africa":"16.5,-28.6 20,-28.4 20.8,-26.9 23,-25.3 25.5,-25.7 26.5,-24.7 29.4,-22.2 31.3,-22.4 32,-25.5 32.8,-26 32.5,-28.5 30.5,-31 26.5,-33.8 22,-34.2 20,-34.8 18.3,-34.2 18,-32",
"Eswatini":"31,-25.8 32,-25.9 32,-27 31,-27.3",
"Lesotho":"27.2,-29.5 28.5,-28.7 29.4,-29.5 28,-30.6",
"Madagascar":"49.4,-12 50.4,-15.5 49.5,-18 47.2,-25 45,-25.5 43.5,-23 44.3,-20 44.3,-16.5 47,-15"
};

/* Robinson projection table */
const robLat=[0,5,10,15,20,25,30,35,40,45,50,55,60,65,70,75,80,85,90];
const robX=[1,.9986,.9954,.99,.9822,.973,.96,.9427,.9216,.8962,.8679,.835,.7986,.7597,.7186,.6732,.6213,.5722,.5322];
const robY=[0,.062,.124,.186,.248,.31,.372,.434,.4958,.5571,.6176,.6769,.7346,.7903,.8435,.8936,.9394,.9761,1];
const xAt=d3.scaleLinear().domain(robLat).range(robX), yAt=d3.scaleLinear().domain(robLat).range(robY);
const robinsonRaw=(l,p)=>{const a=Math.abs(p)*180/Math.PI;return [0.8487*l*xAt(a),1.3523*yAt(a)*Math.sign(p)];};
const projection=d3.geoProjection(robinsonRaw).scale(156).translate([363,316]);
const path=d3.geoPath(projection);

const colorScale=d3.scaleThreshold().domain(binEdges.slice(1)).range(binColors);
const parse=s=>s.split("|").map(r=>{
  const ring=r.trim().split(" ").map(p=>p.split(",").map(Number));
  ring.push(ring[0]);
  let poly={type:"Polygon",coordinates:[ring]};
  if(d3.geoArea(poly)>2*Math.PI) poly={type:"Polygon",coordinates:[ring.slice().reverse()]};
  return poly.coordinates;
});
const features=countryNames.map((n,i)=>({type:"Feature",name:n,value:countryValues[i],geometry:{type:"MultiPolygon",coordinates:parse(outlines[n])}}));
const rank=f=>drawnLast.includes(f.name)?2:(f.value==null?0:1);
features.sort((a,b)=>rank(a)-rank(b));

const svg=d3.select("#c");
const defs=svg.append("defs");
const pat=defs.append("pattern").attr("id","hatch").attr("patternUnits","userSpaceOnUse").attr("width",4.5).attr("height",4.5).attr("patternTransform","rotate(45)");
pat.append("rect").attr("width",4.5).attr("height",4.5).attr("fill","#fff");
pat.append("line").attr("x1",1).attr("x2",1).attr("y1",0).attr("y2",4.5).attr("stroke","#dcdcdc").attr("stroke-width",1.6);

svg.append("g").selectAll("path").data(features).join("path")
  .attr("d",path)
  .attr("fill",d=>d.value==null?"url(#hatch)":colorScale(d.value))
  .attr("stroke",d=>d.value==null?"#d6d6d6":"#7f9a92")
  .attr("stroke-width",0.6).attr("stroke-linejoin","round");

/* header */
svg.append("text").attr("x",16).attr("y",35).attr("fill","#4e4e4e").style("font-family","'Liberation Serif',serif").style("font-weight",700).style("font-size","22.8px").text(titleText);
svg.append("text").attr("x",680).attr("y",36).attr("fill","#6e6e6e").style("font-family","'Liberation Serif',serif").style("font-size","20.5px").text(yearText);
svg.append("g").selectAll("text").data(subtitleLines).join("text").attr("x",16).attr("y",(d,i)=>62+i*19).attr("fill","#5b5b5b").style("font-size","15px").text(d=>d);

/* logo */
const logo=svg.append("g");
logo.append("rect").attr("x",769).attr("y",16).attr("width",64).attr("height",36).attr("fill","#002147");
logo.append("rect").attr("x",769).attr("y",49.5).attr("width",64).attr("height",2.5).attr("fill","#ce261e");
["Our World","in Data"].forEach((t,i)=>logo.append("text").attr("x",801).attr("y",31+i*12).attr("text-anchor","middle").attr("fill","#fff").style("font-size","11.5px").style("font-weight",700).text(t));

/* legend */
const lx=d3.scaleLinear().domain([0,30]).range([254,605]);
const ly=516.5,lh=12;
const lg=svg.append("g");
lg.append("rect").attr("x",186).attr("y",ly).attr("width",48).attr("height",lh).attr("fill","url(#hatch)").attr("stroke","#c8c8c8").attr("stroke-width",.6);
lg.append("line").attr("x1",210).attr("x2",210).attr("y1",ly-3).attr("y2",ly).attr("stroke","#aaa").attr("stroke-width",.6);
lg.append("text").attr("x",210).attr("y",510).attr("text-anchor","middle").attr("fill","#5b5b5b").style("font-size","13px").text("No data");
binEdges.forEach((e,i)=>{
  const x0=lx(e),x1=i<binEdges.length-1?lx(binEdges[i+1]):660;
  lg.append("path").attr("d",i<binEdges.length-1?`M${x0},${ly}H${x1}V${ly+lh}H${x0}Z`:`M${x0},${ly}H${x1}L${x1+4},${ly+lh/2}L${x1},${ly+lh}H${x0}Z`)
    .attr("fill",binColors[i]).attr("stroke","#aaa").attr("stroke-width",.6);
  lg.append("line").attr("x1",x0).attr("x2",x0).attr("y1",ly-3).attr("y2",ly).attr("stroke","#aaa").attr("stroke-width",.6);
  lg.append("text").attr("x",x0).attr("y",510).attr("text-anchor","middle").attr("fill","#5b5b5b").style("font-size","13px").text(legendLabels[i]);
});

/* footer */
const f1=svg.append("text").attr("x",16).attr("y",561).attr("fill","#5b5b5b").style("font-size","13px");
f1.append("tspan").style("font-weight",700).text("Data source:");
f1.append("tspan").text(" UNESCO Institute for Statistics");
svg.append("text").attr("x",832).attr("y",561).attr("text-anchor","end").attr("fill","#5b5b5b").style("font-size","13px").text("OurWorldinData.org/global-education | CC BY");
const f2=svg.append("text").attr("x",16).attr("y",581).attr("fill","#5b5b5b").style("font-size","13px");
f2.append("tspan").style("font-weight",700).text("Note:");
f2.append("tspan").text(" Where data for 2025 is unavailable, the value from the closest year between 2020 and 2024 is shown instead.");
</script></body></html>
